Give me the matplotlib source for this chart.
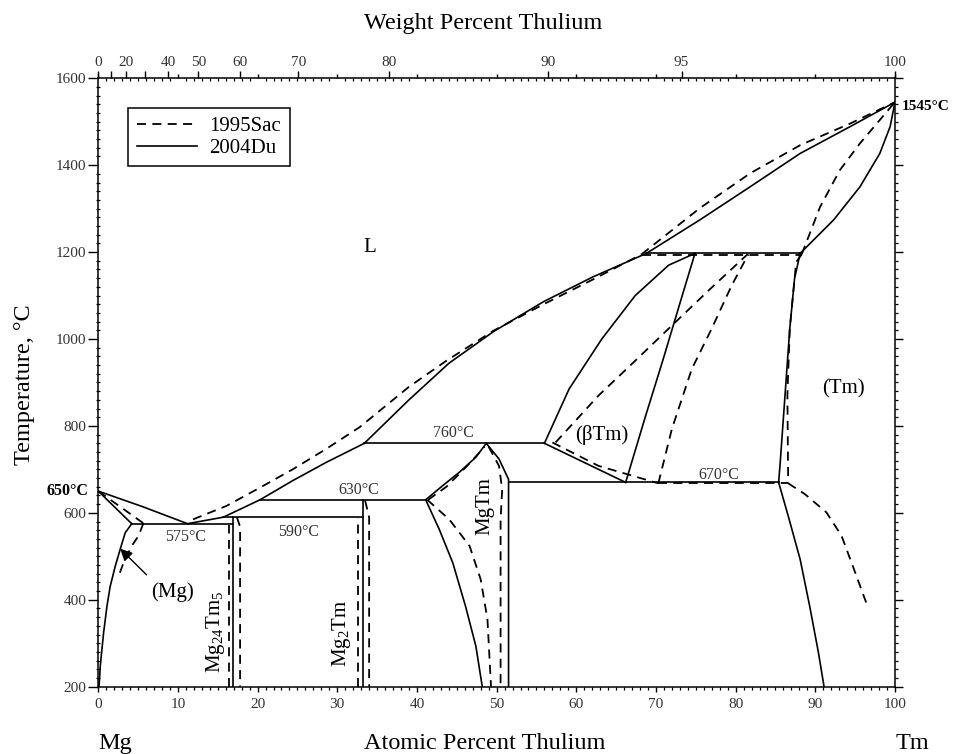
import matplotlib
matplotlib.use('Agg')
import matplotlib.pyplot as plt
from matplotlib.ticker import MultipleLocator
from matplotlib.lines import Line2D

plt.rcParams['font.family'] = ['Liberation Serif', 'DejaVu Serif']
plt.rcParams['mathtext.fontset'] = 'custom'
plt.rcParams['mathtext.rm'] = 'Liberation Serif'
plt.rcParams['mathtext.it'] = 'Liberation Serif:italic'

# ---- 2004Du (solid lines), points are (at.% Tm, T in C)
du_liq_mg = [(0, 650), (5.6, 614), (11.2, 575)]
du_sol_mg = [(0, 650), (4.2, 575)]
du_solvus_mg = [(4.2, 575), (3.38, 554), (2.75, 516), (2.13, 477), (1.5, 431),
                (1.09, 385), (0.67, 324), (0.25, 247), (0.1, 200)]
du_eut575 = [(4.2, 575), (16.9, 575)]
du_mg24tm5 = [(16.9, 200), (16.9, 590)]
du_per590 = [(15.7, 590), (33.2, 590)]
du_liq_low = [(11.2, 575), (15.7, 590), (20.3, 630), (24.4, 674), (28.6, 716), (33.4, 760)]
du_per630 = [(20.3, 630), (41.1, 630)]
du_mg2tm = [(33.2, 200), (33.2, 630)]
du_per760 = [(33.4, 760), (56.0, 760)]
du_mgtm_left_low = [(41.1, 630), (42.8, 562), (44.5, 485), (46.1, 385), (47.4, 293), (48.2, 200)]
du_mgtm_left_up = [(41.1, 630), (43.2, 662), (45.3, 693), (47.4, 728), (48.7, 760)]
du_mgtm_right = [(48.7, 760), (50.3, 724), (51.5, 677), (51.5, 670), (51.5, 200)]
du_eut670 = [(51.5, 670), (85.4, 670)]
du_liq_mid = [(33.4, 760), (39.0, 860), (44.0, 944), (49.6, 1017), (55.9, 1086),
              (62.1, 1143), (68.8, 1197)]
du_btm_left = [(56.0, 760), (59.1, 885), (63.2, 1000), (67.4, 1100), (71.6, 1170), (74.9, 1197)]
du_btm_right = [(74.9, 1197), (73.3, 1100), (70.8, 947), (68.7, 823), (66.2, 670)]
du_btm_low = [(56.0, 760), (62.8, 700), (66.2, 670)]
du_per1197 = [(68.8, 1197), (88.1, 1197)]
du_tm_solvus_up = [(88.1, 1197), (87.4, 1139), (86.8, 1024), (86.2, 870), (85.6, 716), (85.4, 670)]
du_tm_solvus_low = [(85.4, 670), (86.6, 593), (88.1, 493), (89.3, 385), (90.4, 278), (91.1, 200)]
du_liq_top = [(68.8, 1197), (75.5, 1274), (81.8, 1350), (88.1, 1427), (94.4, 1489), (100, 1545)]
du_sol_top = [(88.1, 1197), (92.3, 1274), (95.6, 1350), (98.1, 1427), (99.4, 1489), (100, 1545)]

# ---- 1995Sac (dashed lines)
sac_sol_mg = [(0, 650), (5.67, 576)]
sac_solvus_mg = [(5.67, 576), (5.05, 547), (4.21, 524), (3.17, 485), (2.55, 454)]
sac_liq = [(11.9, 585), (16.1, 616), (20.3, 658), (24.4, 700), (28.6, 747), (32.8, 797),
           (36.0, 845), (39.0, 890), (43.7, 950), (49.6, 1019), (55.9, 1080),
           (62.1, 1137), (68.2, 1195)]
sac_mg24tm5_l = [(16.45, 200), (16.45, 572)]
sac_mg24tm5_r = [(17.4, 590), (17.8, 568), (17.8, 200)]
sac_mg2tm_l = [(32.6, 200), (32.6, 588)]
sac_mg2tm_r = [(33.5, 628), (34.0, 590), (34.0, 200)]
sac_mgtm_left_low = [(41.3, 630), (44.05, 585), (46.6, 524), (48.0, 447), (48.85, 355), (49.3, 200)]
sac_mgtm_left_up = [(41.4, 630), (43.7, 660), (46.2, 706), (48.5, 752)]
sac_mgtm_right = [(49.0, 752), (50.3, 708), (50.7, 654), (50.5, 585), (50.5, 200)]
sac_btm_left = [(57.4, 762), (62.8, 870), (67.4, 950), (72.0, 1031), (76.8, 1115), (81.5, 1195)]
sac_btm_low = [(57.0, 762), (62.8, 708), (70.3, 668)]
sac_btm_right = [(70.3, 668), (72.0, 793), (74.5, 931), (77.0, 1024), (79.5, 1123), (81.6, 1195)]
sac_per1197 = [(68.2, 1194), (88.3, 1194)]
sac_tm_solvus_up = [(88.3, 1195), (87.6, 1177), (86.8, 1024), (86.5, 870), (86.6, 668)]
sac_tm_solvus_low = [(86.6, 668), (88.7, 643), (91.4, 601), (93.3, 547), (94.7, 478), (96.4, 393)]
sac_eut670 = [(70.3, 668), (86.6, 668)]
sac_liq_top = [(68.2, 1195), (75.5, 1301), (81.8, 1381), (88.1, 1446), (94.4, 1496), (100, 1545)]
sac_sol_top = [(88.3, 1195), (90.6, 1304), (93.1, 1389), (95.6, 1450), (98.1, 1504), (100, 1545)]

du_curves = [du_liq_mg, du_sol_mg, du_solvus_mg, du_eut575, du_mg24tm5, du_per590,
             du_liq_low, du_per630, du_mg2tm, du_per760, du_mgtm_left_low, du_mgtm_left_up,
             du_mgtm_right, du_eut670, du_liq_mid, du_btm_left, du_btm_right, du_btm_low,
             du_per1197, du_tm_solvus_up, du_tm_solvus_low, du_liq_top, du_sol_top]
sac_curves = [sac_sol_mg, sac_solvus_mg, sac_liq, sac_mg24tm5_l, sac_mg24tm5_r, sac_mg2tm_l,
              sac_mg2tm_r, sac_mgtm_left_low, sac_mgtm_left_up, sac_mgtm_right, sac_btm_left,
              sac_btm_low, sac_btm_right, sac_per1197, sac_tm_solvus_up, sac_tm_solvus_low,
              sac_eut670, sac_liq_top, sac_sol_top]

# weight percent ticks for top axis
wt_ticks = [0, 10, 20, 30, 40, 50, 60, 70, 80, 90, 95, 100]
wt_labels = ['0', '', '20', '', '40', '50', '60', '70', '80', '90', '95', '100']
M_MG = 24.305
M_TM = 168.934


def wt_to_at(w):
    a = w / M_TM
    b = (100 - w) / M_MG
    return 100 * a / (a + b)


fig = plt.figure(figsize=(9.54, 7.54), dpi=100)
ax = fig.add_axes([0.1030, 0.0893, 0.8351, 0.8069])

DASH = (0, (5, 3.5))
for c in du_curves:
    ax.plot([p[0] for p in c], [p[1] for p in c], color='k', lw=1.2, solid_joinstyle='miter')
for c in sac_curves:
    ax.plot([p[0] for p in c], [p[1] for p in c], color='k', lw=1.3, ls=DASH)

ax.set_xlim(0, 100)
ax.set_ylim(200, 1600)
for s in ax.spines.values():
    s.set_linewidth(1.1)

ax.xaxis.set_major_locator(MultipleLocator(10))
ax.xaxis.set_minor_locator(MultipleLocator(1))
ax.yaxis.set_major_locator(MultipleLocator(200))
ax.yaxis.set_minor_locator(MultipleLocator(20))
ax.tick_params(axis='x', which='major', direction='out', length=3.8, width=1, pad=4,
               labelsize=11, labelcolor='#333333')
ax.tick_params(axis='x', which='minor', direction='out', length=2.2, width=0.9)
ax.tick_params(axis='y', which='major', direction='out', length=7, width=1, pad=1.5,
               labelsize=11, labelcolor='#333333')
ax.tick_params(axis='y', which='minor', direction='inout', length=3, width=0.9)

# top axis: atomic percent ticks
ax_top = ax.twiny()
ax_top.set_xlim(0, 100)
ax_top.xaxis.set_major_locator(MultipleLocator(10))
ax_top.xaxis.set_minor_locator(MultipleLocator(1))
ax_top.tick_params(axis='x', which='major', direction='out', length=3, width=1, labeltop=False)
ax_top.tick_params(axis='x', which='minor', direction='in', length=2.2, width=0.9)
for s in ax_top.spines.values():
    s.set_visible(False)

# top axis: weight percent ticks with labels
ax_wt = ax.twiny()
ax_wt.set_xlim(0, 100)
ax_wt.set_xticks([wt_to_at(w) for w in wt_ticks])
ax_wt.set_xticklabels(wt_labels)
ax_wt.tick_params(axis='x', direction='out', length=5, width=1, pad=2,
                  labelsize=11, labelcolor='#333333')
for s in ax_wt.spines.values():
    s.set_visible(False)

# right axis ticks
ax_r = ax.twinx()
ax_r.set_ylim(200, 1600)
ax_r.yaxis.set_major_locator(MultipleLocator(200))
ax_r.yaxis.set_minor_locator(MultipleLocator(20))
ax_r.tick_params(axis='y', which='major', direction='out', length=6, width=1, labelright=False)
ax_r.tick_params(axis='y', which='minor', direction='out', length=2.2, width=0.9)
for s in ax_r.spines.values():
    s.set_visible(False)

# labels
ax.set_ylabel('Temperature, °C', fontsize=17.5)
ax.yaxis.set_label_coords(-0.079, 0.496)
fig.text(485 / 954, 1 - 749 / 754, 'Atomic Percent Thulium', fontsize=17.5,
         ha='center', va='baseline')
fig.text(483 / 954, 1 - 23 / 754, 'Weight Percent Thulium', fontsize=17.5,
         ha='center', va='center')
fig.text(98 / 954, 1 - 749 / 754, 'Mg', fontsize=17.5, ha='left', va='baseline')
fig.text(912 / 954, 1 - 749 / 754, 'Tm', fontsize=17.5, ha='center', va='baseline')

# phase and invariant labels
ax.text(34.1, 1210, 'L', fontsize=15, ha='center', va='center')
ax.text(9.3, 418, '(Mg)', fontsize=15, ha='center', va='center')
ax.text(63.2, 779, '(βTm)', fontsize=15, ha='center', va='center')
ax.text(93.5, 885, '(Tm)', fontsize=15, ha='center', va='center')
ax.text(48.5, 616, 'MgTm', fontsize=15, rotation=90, ha='center', va='center')
ax.text(14.7, 326, 'Mg$_{\\mathrm{24}}$Tm$_{\\mathrm{5}}$', fontsize=15, rotation=90,
        ha='center', va='center')
ax.text(30.5, 323, 'Mg$_{\\mathrm{2}}$Tm', fontsize=15, rotation=90, ha='center', va='center')
gray = '#333333'
ax.text(10.9, 545, '575°C', fontsize=11.5, color=gray, ha='center', va='center')
ax.text(25.2, 557, '590°C', fontsize=11.5, color=gray, ha='center', va='center')
ax.text(32.7, 653, '630°C', fontsize=11.5, color=gray, ha='center', va='center')
ax.text(44.6, 784, '760°C', fontsize=11.5, color=gray, ha='center', va='center')
ax.text(77.9, 687, '670°C', fontsize=11.5, color=gray, ha='center', va='center')
ax.text(-1.3, 650, '650°C', fontsize=11.5, fontweight='bold', ha='right', va='center',
        clip_on=False)
ax.text(100.8, 1535, '1545°C', fontsize=11, fontweight='bold', ha='left', va='center',
        clip_on=False)

ax.annotate('', xy=(2.5, 522), xytext=(6.3, 453),
            arrowprops=dict(arrowstyle='-|>', color='k', lw=1, mutation_scale=18))

handles = [Line2D([], [], color='k', lw=1.3, ls=DASH),
           Line2D([], [], color='k', lw=1.2)]
leg = ax.legend(handles, ['1995Sac', '2004Du'], loc='upper left',
                bbox_to_anchor=(0.0377, 0.9507), fontsize=15, handlelength=2.9,
                handletextpad=0.6, borderpad=0.4, labelspacing=0.1,
                borderaxespad=0, fancybox=False, framealpha=1)
leg.get_frame().set_edgecolor('k')
leg.get_frame().set_linewidth(1.1)

fig.savefig('out.png', dpi=100)
